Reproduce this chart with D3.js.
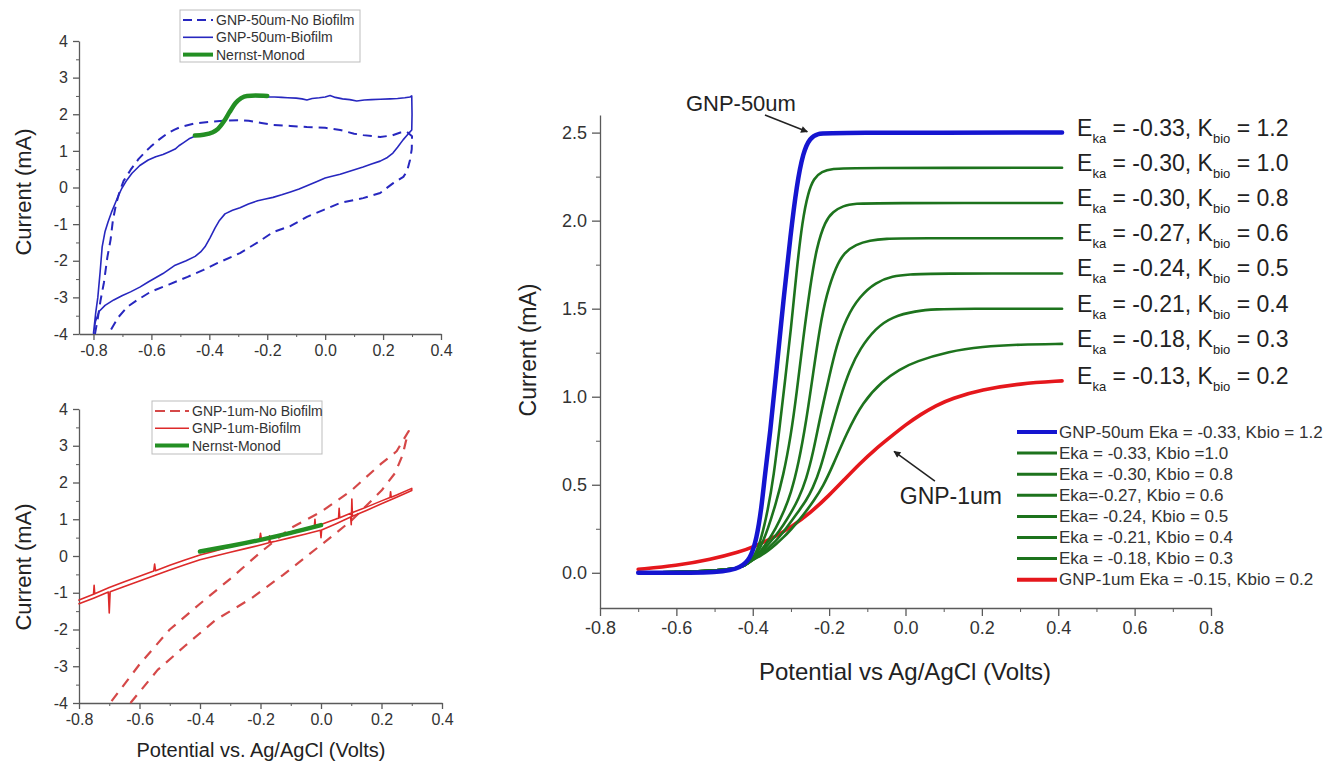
<!DOCTYPE html>
<html>
<head>
<meta charset="UTF-8">
<title>Nernst-Monod fits, GNP electrodes</title>
<script src="https://cdn.jsdelivr.net/npm/d3@7"></script>
<style>
  body { margin:0; background:#fff; }
  svg text { font-family: "Liberation Sans", Arial, sans-serif; }
</style>
</head>
<body>
<svg id="chart" width="1342" height="764"></svg>
<script>
// ---------- data: [potential (V), current (mA)] ----------
// top-left: GNP-50um cyclic voltammograms
var tlBiofilm = [
 [-0.800,-3.98],[-0.792,-3.40],[-0.785,-3.00],[-0.777,-2.30],[-0.770,-1.62],[-0.760,-1.20],[-0.750,-0.95],[-0.738,-0.68],
 [-0.726,-0.45],[-0.714,-0.22],[-0.702,-0.02],[-0.685,0.20],[-0.667,0.39],[-0.640,0.60],[-0.611,0.75],[-0.585,0.84],
 [-0.560,0.90],[-0.540,0.97],[-0.518,1.05],[-0.505,1.14],[-0.490,1.22],[-0.470,1.33],[-0.450,1.40],[-0.430,1.43],
 [-0.410,1.45],[-0.390,1.50],[-0.370,1.60],[-0.350,1.78],[-0.330,2.05],[-0.310,2.28],[-0.290,2.42],[-0.275,2.50],
 [-0.262,2.52],[-0.245,2.49],[-0.225,2.48],[-0.200,2.47],[-0.175,2.47],[-0.150,2.46],[-0.130,2.45],[-0.100,2.44],
 [-0.080,2.42],[-0.063,2.39],[-0.045,2.43],[-0.020,2.45],[0.000,2.47],[0.017,2.51],[0.035,2.46],[0.060,2.42],
 [0.085,2.40],[0.109,2.36],[0.135,2.39],[0.160,2.40],[0.190,2.41],[0.224,2.42],[0.250,2.43],[0.275,2.45],
 [0.293,2.47],[0.299,2.50],[0.300,2.00],[0.299,1.57],[0.285,1.45],[0.269,1.30],[0.250,1.10],[0.234,0.94],
 [0.215,0.82],[0.190,0.72],[0.160,0.64],[0.131,0.56],[0.090,0.46],[0.052,0.36],[0.020,0.30],[0.000,0.26],
 [-0.030,0.16],[-0.063,0.05],[-0.090,-0.04],[-0.120,-0.12],[-0.150,-0.20],[-0.180,-0.27],[-0.210,-0.32],[-0.233,-0.36],
 [-0.265,-0.45],[-0.294,-0.55],[-0.320,-0.62],[-0.346,-0.72],[-0.365,-0.90],[-0.380,-1.10],[-0.398,-1.38],[-0.415,-1.62],
 [-0.430,-1.76],[-0.449,-1.88],[-0.480,-2.00],[-0.518,-2.12],[-0.560,-2.35],[-0.611,-2.58],[-0.640,-2.72],[-0.672,-2.85],
 [-0.700,-2.95],[-0.730,-3.07],[-0.760,-3.22],[-0.780,-3.38],[-0.793,-3.65],[-0.800,-3.98]
];
var tlNoBiofilm = [
 [-0.795,-4.00],[-0.786,-3.62],[-0.776,-3.10],[-0.764,-2.60],[-0.752,-1.90],[-0.741,-1.43],[-0.733,-0.90],[-0.722,-0.45],
 [-0.710,-0.12],[-0.696,0.18],[-0.672,0.48],[-0.644,0.78],[-0.620,0.98],[-0.603,1.11],[-0.575,1.30],[-0.544,1.48],
 [-0.520,1.58],[-0.500,1.65],[-0.450,1.75],[-0.402,1.79],[-0.344,1.83],[-0.294,1.84],[-0.264,1.82],[-0.220,1.76],
 [-0.180,1.71],[-0.120,1.68],[-0.063,1.65],[0.000,1.63],[0.052,1.57],[0.100,1.47],[0.131,1.43],[0.190,1.38],
 [0.230,1.42],[0.260,1.50],[0.282,1.52],[0.300,1.40],[0.299,1.05],[0.293,0.75],[0.283,0.45],[0.270,0.29],
 [0.235,0.12],[0.190,-0.15],[0.131,-0.29],[0.052,-0.42],[-0.005,-0.61],[-0.063,-0.80],[-0.119,-1.05],[-0.180,-1.22],
 [-0.233,-1.50],[-0.294,-1.79],[-0.371,-2.06],[-0.420,-2.25],[-0.475,-2.44],[-0.540,-2.65],[-0.603,-2.85],[-0.650,-3.08],
 [-0.683,-3.26],[-0.715,-3.55],[-0.748,-4.00]
];
var tlNernst = [[-0.450,1.42],[-0.420,1.44],[-0.390,1.50],[-0.370,1.60],[-0.350,1.80],[-0.330,2.06],[-0.310,2.30],
 [-0.290,2.44],[-0.270,2.50],[-0.240,2.51],[-0.200,2.50]];

// bottom-left: GNP-1um cyclic voltammograms
var blBiofilm = [
 [-0.800,-1.20],[-0.752,-1.04],[-0.750,-0.80],[-0.748,-1.03],[-0.700,-0.86],[-0.650,-0.70],[-0.600,-0.55],[-0.553,-0.41],
 [-0.550,-0.22],[-0.547,-0.40],[-0.500,-0.25],[-0.450,-0.11],[-0.400,0.03],[-0.350,0.14],[-0.300,0.25],[-0.250,0.35],
 [-0.203,0.44],[-0.200,0.62],[-0.197,0.45],[-0.150,0.55],[-0.100,0.65],[-0.050,0.75],[-0.022,0.80],[-0.020,1.00],
 [-0.018,0.81],[0.000,0.86],[0.050,1.01],[0.058,1.03],[0.060,1.30],[0.062,1.04],[0.100,1.17],[0.150,1.33],
 [0.200,1.50],[0.228,1.59],[0.230,1.75],[0.232,1.60],[0.250,1.66],[0.300,1.84],
 [0.300,1.78],[0.250,1.60],[0.200,1.42],[0.150,1.24],[0.104,1.08],[0.102,1.55],[0.100,0.85],[0.098,1.06],
 [0.050,0.88],[0.002,0.71],[0.000,0.50],[-0.002,0.70],[-0.050,0.60],[-0.100,0.50],[-0.150,0.40],[-0.168,0.37],
 [-0.170,0.55],[-0.172,0.36],[-0.200,0.30],[-0.250,0.20],[-0.300,0.10],[-0.350,0.00],[-0.400,-0.10],[-0.450,-0.24],
 [-0.500,-0.38],[-0.550,-0.53],[-0.600,-0.68],[-0.650,-0.83],[-0.697,-0.97],[-0.700,-1.55],[-0.703,-0.98],[-0.750,-1.14],
 [-0.800,-1.30]
];
var blNoBiofilm = [
 [-0.630,-4.00],[-0.540,-3.10],[-0.450,-2.45],[-0.350,-1.75],[-0.230,-1.15],[-0.126,-0.52],[0.000,0.30],[0.100,0.96],
 [0.200,1.78],[0.245,2.26],[0.270,2.75],[0.280,3.10],[0.290,3.40],[0.250,2.85],[0.200,2.52],[0.100,1.78],
 [0.000,1.20],[-0.100,0.76],[-0.200,0.10],[-0.300,-0.62],[-0.400,-1.30],[-0.500,-2.00],[-0.600,-2.95],[-0.697,-4.00]
];
var blNernst = [[-0.400,0.12],[-0.300,0.27],[-0.200,0.44],[-0.100,0.63],[0.000,0.84]];

// right: Nernst-Monod curves
var nmBlue = [[-0.70,0],[-0.47,0],[-0.433,0.03],[-0.407,0.075],[-0.39,0.19],[-0.377,0.37],[-0.368,0.56],[-0.355,0.78],
 [-0.337,1.17],[-0.32,1.54],[-0.301,1.92],[-0.285,2.2],[-0.268,2.39],[-0.25,2.47],[-0.23,2.495],[-0.20,2.5],[0.41,2.5]];
var nmGreen10 = [[-0.70,0],[-0.55,0.005],[-0.45,0.02],[-0.42,0.04],[-0.40,0.075],[-0.38,0.17],[-0.36,0.36],[-0.345,0.55],
 [-0.33,0.82],[-0.315,1.1],[-0.30,1.38],[-0.285,1.72],[-0.27,2.0],[-0.255,2.16],[-0.24,2.24],[-0.22,2.28],[-0.19,2.295],
 [-0.15,2.3],[0.41,2.3]];
var nmGreen08 = [[-0.70,0],[-0.55,0.005],[-0.45,0.02],[-0.42,0.04],[-0.40,0.075],[-0.38,0.14],[-0.36,0.25],[-0.34,0.39],
 [-0.32,0.55],[-0.30,0.78],[-0.285,1.02],[-0.268,1.33],[-0.25,1.62],[-0.233,1.85],[-0.21,2.0],[-0.19,2.05],[-0.164,2.085],
 [-0.13,2.097],[-0.08,2.1],[0.41,2.1]];
var nmGreen06 = [[-0.70,0],[-0.55,0.005],[-0.45,0.02],[-0.42,0.04],[-0.40,0.075],[-0.38,0.12],[-0.36,0.18],[-0.34,0.25],
 [-0.32,0.34],[-0.30,0.45],[-0.28,0.62],[-0.26,0.86],[-0.242,1.13],[-0.224,1.4],[-0.207,1.58],[-0.182,1.74],[-0.16,1.82],
 [-0.13,1.865],[-0.094,1.888],[-0.05,1.898],[0.0,1.9],[0.41,1.9]];
var nmGreen05 = [[-0.70,0],[-0.55,0.005],[-0.45,0.02],[-0.42,0.04],[-0.40,0.075],[-0.38,0.11],[-0.36,0.16],[-0.34,0.21],
 [-0.32,0.27],[-0.30,0.34],[-0.28,0.42],[-0.26,0.53],[-0.242,0.68],[-0.224,0.88],[-0.198,1.13],[-0.182,1.28],[-0.155,1.45],
 [-0.12,1.57],[-0.078,1.65],[-0.034,1.685],[0.01,1.695],[0.07,1.7],[0.41,1.7]];
var nmGreen04 = [[-0.70,0],[-0.55,0.005],[-0.45,0.02],[-0.42,0.04],[-0.40,0.075],[-0.38,0.1],[-0.36,0.14],[-0.34,0.18],
 [-0.32,0.23],[-0.30,0.29],[-0.28,0.35],[-0.26,0.41],[-0.243,0.48],[-0.224,0.58],[-0.198,0.79],[-0.172,0.99],[-0.145,1.16],
 [-0.12,1.27],[-0.078,1.39],[-0.034,1.455],[0.026,1.487],[0.08,1.497],[0.15,1.5],[0.41,1.5]];
var nmGreen03 = [[-0.70,0],[-0.55,0.005],[-0.45,0.02],[-0.42,0.04],[-0.40,0.075],[-0.38,0.095],[-0.36,0.125],[-0.34,0.16],
 [-0.32,0.2],[-0.30,0.245],[-0.28,0.295],[-0.26,0.35],[-0.24,0.41],[-0.216,0.49],[-0.19,0.61],[-0.155,0.79],[-0.112,0.97],
 [-0.06,1.09],[-0.016,1.155],[0.026,1.2],[0.114,1.258],[0.2,1.285],[0.3,1.297],[0.41,1.3]];
var nmRed = [[-0.70,0.02],[-0.60,0.04],[-0.51,0.075],[-0.433,0.12],[-0.40,0.145],[-0.336,0.21],[-0.30,0.26],[-0.249,0.34],
 [-0.20,0.44],[-0.16,0.53],[-0.12,0.62],[-0.08,0.70],[-0.04,0.77],[0.0,0.84],[0.04,0.9],[0.08,0.95],[0.12,0.99],
 [0.2,1.04],[0.3,1.075],[0.41,1.09]];

var ekaLabels  = ["-0.33","-0.30","-0.30","-0.27","-0.24","-0.21","-0.18","-0.13"];
var kbioLabels = ["1.2","1.0","0.8","0.6","0.5","0.4","0.3","0.2"];
var legendLabels = ["GNP-50um Eka = -0.33, Kbio = 1.2","Eka = -0.33, Kbio =1.0","Eka = -0.30, Kbio = 0.8",
 "Eka=-0.27, Kbio = 0.6","Eka= -0.24, Kbio = 0.5","Eka = -0.21, Kbio = 0.4"," Eka = -0.18, Kbio = 0.3",
 "GNP-1um Eka = -0.15, Kbio = 0.2"];

// tick values
var cvXTicks = [-0.8,-0.6,-0.4,-0.2,0,0.2,0.4];
var cvXMinor = [-0.7,-0.5,-0.3,-0.1,0.1,0.3];
var cvYTicks = [-4,-3,-2,-1,0,1,2,3,4];
var cvYMinor = [-3.5,-2.5,-1.5,-0.5,0.5,1.5,2.5,3.5];
var nmXTicks = [-0.8,-0.6,-0.4,-0.2,0,0.2,0.4,0.6,0.8];
var nmXMinor = [-0.7,-0.5,-0.3,-0.1,0.1,0.3,0.5,0.7];
var nmYTicks = [0,0.5,1,1.5,2,2.5];
var nmYMinor = [0.25,0.75,1.25,1.75,2.25];

// ---------- drawing ----------
var svg = d3.select("#chart");
var FONT = "'Liberation Sans', Arial, sans-serif";

var blue = "#2727bf", cvGreen = "#238f23", red = "#dd2a2a";
var nmBlueC = "#1515d0", nmGreenC = "#1d731d", nmRedC = "#e5171c";

function drawAxes(x, y, xt, xm, yt, ym, big, small, fs, fmtY) {
  var bottom = y.range()[0], left = x.range()[0];
  var gx = svg.append("g").attr("transform", "translate(0," + bottom + ")")
    .call(d3.axisBottom(x).tickValues(xt).tickSize(big).tickSizeOuter(0).tickPadding(5)
      .tickFormat(function(d) { return d.toFixed(1); }));
  svg.append("g").attr("transform", "translate(0," + bottom + ")")
    .call(d3.axisBottom(x).tickValues(xm).tickSize(small).tickFormat(""))
    .call(function(g) { g.select(".domain").remove(); });
  var gy = svg.append("g").attr("transform", "translate(" + left + ",0)")
    .call(d3.axisLeft(y).tickValues(yt).tickSize(big).tickSizeOuter(0).tickPadding(5).tickFormat(fmtY));
  svg.append("g").attr("transform", "translate(" + left + ",0)")
    .call(d3.axisLeft(y).tickValues(ym).tickSize(small).tickFormat(""))
    .call(function(g) { g.select(".domain").remove(); });
  svg.selectAll("g").attr("color", "#5a5a5a");
  [gx, gy].forEach(function(g) {
    g.attr("font-size", fs).attr("font-family", FONT);
    g.selectAll("text").attr("fill", "#333");
    g.selectAll("path, line").attr("stroke-width", 1.3);
  });
}

function path(data, x, y, color, w, dash, curve) {
  var line = d3.line().x(function(d) { return x(d[0]); }).y(function(d) { return y(d[1]); })
    .curve(curve || d3.curveLinear);
  svg.append("path").datum(data).attr("d", line).attr("fill", "none")
    .attr("stroke", color).attr("stroke-width", w)
    .attr("stroke-linejoin", "round").attr("stroke-linecap", dash ? "butt" : "round")
    .attr("stroke-dasharray", dash || null);
}

function axisTitle(txt, xp, yp, fs, rot) {
  svg.append("text").attr("transform", "translate(" + xp + "," + yp + ")" + (rot ? " rotate(-90)" : ""))
    .attr("text-anchor", "middle").attr("font-size", fs).attr("fill", "#222").text(txt);
}

function cvLegend(x0, y0, w, h, lineLen, rows) {
  svg.append("rect").attr("x", x0).attr("y", y0).attr("width", w).attr("height", h)
    .attr("fill", "#fff").attr("stroke", "#bdbdbd").attr("stroke-width", 1);
  rows.forEach(function(r, i) {
    var yy = y0 + 10 + i * 17.3;
    svg.append("line").attr("x1", x0 + 3).attr("x2", x0 + 3 + lineLen).attr("y1", yy).attr("y2", yy)
      .attr("stroke", r.color).attr("stroke-width", r.w).attr("stroke-dasharray", r.dash || null);
    svg.append("text").attr("x", x0 + 6 + lineLen).attr("y", yy + 5).attr("font-size", 14)
      .attr("fill", "#333").text(r.label);
  });
}

var fmt0 = function(d) { return d3.format("d")(d).replace("−", "-"); };
var fmt1 = function(d) { return d.toFixed(1); };

// ---- top-left panel ----
var xTL = d3.scaleLinear().domain([-0.85, 0.4]).range([79, 441]);
var yTL = d3.scaleLinear().domain([-4, 4]).range([334, 41]);
drawAxes(xTL, yTL, cvXTicks, cvXMinor, cvYTicks, cvYMinor, 6, 3, 16, fmt0);
path(tlNoBiofilm, xTL, yTL, blue, 2, "9,6");
path(tlBiofilm, xTL, yTL, blue, 1.6);
path(tlNernst, xTL, yTL, cvGreen, 4.5, null, d3.curveMonotoneX);
axisTitle("Current (mA)", 31, 192, 22, true);
cvLegend(180, 10, 180, 52, 30, [
  {label: "GNP-50um-No Biofilm", color: blue, w: 2, dash: "9,5"},
  {label: "GNP-50um-Biofilm", color: blue, w: 1.6},
  {label: "Nernst-Monod", color: cvGreen, w: 4}
]);

// ---- bottom-left panel ----
var xBL = d3.scaleLinear().domain([-0.8, 0.4]).range([79, 442]);
var yBL = d3.scaleLinear().domain([-4, 4]).range([703, 409]);
drawAxes(xBL, yBL, cvXTicks, cvXMinor, cvYTicks, cvYMinor, 6, 3, 16, fmt0);
path(blNoBiofilm, xBL, yBL, "#d54848", 2.2, "10,8");
path(blBiofilm, xBL, yBL, red, 1.6);
path(blNernst, xBL, yBL, cvGreen, 4.5, null, d3.curveMonotoneX);
axisTitle("Current (mA)", 31, 567, 22, true);
axisTitle("Potential vs. Ag/AgCl (Volts)", 261, 757, 20, false);
cvLegend(152, 401, 170, 53, 34, [
  {label: "GNP-1um-No Biofilm", color: "#d54848", w: 2, dash: "10,5"},
  {label: "GNP-1um-Biofilm", color: red, w: 1.6},
  {label: "Nernst-Monod", color: cvGreen, w: 4}
]);

// ---- right panel ----
var xR = d3.scaleLinear().domain([-0.8, 0.8]).range([600, 1211]);
var yR = d3.scaleLinear().domain([-0.2, 2.6]).range([608, 115]);
drawAxes(xR, yR, nmXTicks, nmXMinor, nmYTicks, nmYMinor, 8, 4, 18, fmt1);

var smooth = d3.curveBasis;
path(nmRed, xR, yR, nmRedC, 3.6, null, smooth);
var greens = [nmGreen10, nmGreen08, nmGreen06, nmGreen05, nmGreen04, nmGreen03];
greens.forEach(function(g) { path(g, xR, yR, nmGreenC, 2.6, null, smooth); });
path(nmBlue, xR, yR, nmBlueC, 4.5, null, smooth);

axisTitle("Current (mA)", 536, 350, 23, true);
axisTitle("Potential vs Ag/AgCl (Volts)", 905, 680, 24, false);

// E_ka / K_bio labels beside the end of each curve
var allCurves = [nmBlue].concat(greens).concat([nmRed]);
allCurves.forEach(function(c, i) {
  var last = c[c.length - 1];
  var t = svg.append("text").attr("x", xR(last[0]) + 15).attr("y", yR(last[1]) + 3)
    .attr("font-size", 23).attr("fill", "#222");
  t.append("tspan").text("E");
  t.append("tspan").attr("dy", 7).attr("font-size", 13).text("ka");
  t.append("tspan").attr("dy", -7).text(" = " + ekaLabels[i] + ", K");
  t.append("tspan").attr("dy", 7).attr("font-size", 13).text("bio");
  t.append("tspan").attr("dy", -7).text(" = " + kbioLabels[i]);
});

// legend
var legColors = [nmBlueC, nmGreenC, nmGreenC, nmGreenC, nmGreenC, nmGreenC, nmGreenC, nmRedC];
var legWidths = [4, 3, 3, 3, 3, 3, 3, 4];
legendLabels.forEach(function(l, i) {
  var yy = 432 + i * 21.1;
  svg.append("line").attr("x1", 1017).attr("x2", 1057).attr("y1", yy).attr("y2", yy)
    .attr("stroke", legColors[i]).attr("stroke-width", legWidths[i]);
  svg.append("text").attr("x", 1059).attr("y", yy + 5.5).attr("font-size", 17)
    .attr("fill", "#333").text(l);
});

// arrows and curve names
svg.append("defs").append("marker").attr("id", "arr").attr("viewBox", "0 0 10 10")
  .attr("refX", 9).attr("refY", 5).attr("markerWidth", 9).attr("markerHeight", 7)
  .attr("markerUnits", "userSpaceOnUse").attr("orient", "auto")
  .append("path").attr("d", "M0,0 L10,5 L0,10 z").attr("fill", "#222");

function arrow(from, to) {
  svg.append("line").attr("x1", xR(from[0])).attr("y1", yR(from[1]))
    .attr("x2", xR(to[0])).attr("y2", yR(to[1]))
    .attr("stroke", "#222").attr("stroke-width", 1.5).attr("marker-end", "url(#arr)");
}
arrow([-0.368, 2.60], [-0.257, 2.505]);
arrow([0.077, 0.52], [-0.030, 0.69]);
svg.append("text").attr("x", xR(-0.431)).attr("y", yR(2.62)).attr("text-anchor", "middle")
  .attr("font-size", 22).attr("fill", "#222").text("GNP-50um");
svg.append("text").attr("x", xR(-0.015)).attr("y", yR(0.39))
  .attr("font-size", 23).attr("fill", "#222").text("GNP-1um");
</script>
</body>
</html>
